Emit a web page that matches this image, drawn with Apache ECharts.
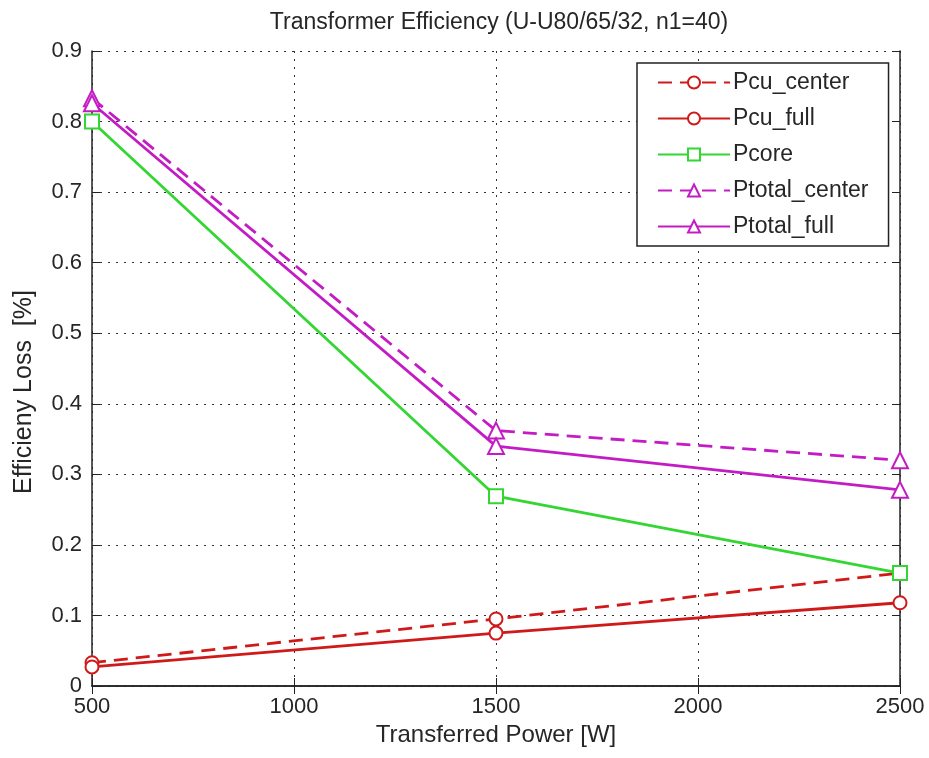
<!DOCTYPE html>
<html><head><meta charset="utf-8">
<script src="https://cdn.jsdelivr.net/npm/echarts@6/dist/echarts.min.js"></script>
<style>html,body{margin:0;padding:0;background:#fff}#c{width:929px;height:758px}</style>
</head><body><div id="c"></div>
<script>
const power = [500, 1500, 2500];
const pcuCenter = [0.033, 0.095, 0.160];
const pcuFull = [0.027, 0.075, 0.118];
const pcore = [0.800, 0.269, 0.160];
const ptotalCenter = [0.833, 0.362, 0.320];
const ptotalFull = [0.826, 0.340, 0.278];
const xTicks = [500, 1000, 1500, 2000, 2500];
const yTicks = [0, 0.1, 0.2, 0.3, 0.4, 0.5, 0.6, 0.7, 0.8, 0.9];

const RED = '#d01a1a', GREEN = '#33d633', MAG = '#c41cc4';
const FONT = 'Liberation Sans';
const TXT = '#262626';
const pairs = a => power.map((x, i) => [x, a[i]]);
function mk(name, data, color, symbol, size, dashed) {
  return {
    name, type: 'line', data: pairs(data), symbol, symbolSize: size,
    showAllSymbol: true,
    itemStyle: { color: '#fff', borderColor: color, borderWidth: 2 },
    lineStyle: { color, width: 2.8, type: dashed ? [14, 8] : 'solid' },
    emphasis: { disabled: true }, animation: false, z: 3
  };
}
const chart = echarts.init(document.getElementById('c'), null, { renderer: 'canvas' });
const axisLine = { show: true, lineStyle: { color: '#222', width: 1.5 } };
const tick = { show: true, inside: true, length: 8, lineStyle: { color: '#222', width: 1 } };
chart.setOption({
  backgroundColor: '#fff',
  animation: false,
  textStyle: { fontFamily: FONT },
  title: {
    text: 'Transformer Efficiency (U-U80/65/32, n1=40)', left: 494, textAlign: 'center', top: 6,
    textStyle: { fontFamily: FONT, fontSize: 23, fontWeight: 'normal', color: TXT }
  },
  graphic: [{
    type: 'text', x: 24, y: 392, rotation: Math.PI / 2,
    style: { text: 'Efficieny Loss  [%]', fontFamily: FONT, fontSize: 25, fill: TXT,
      textAlign: 'center', textVerticalAlign: 'middle' }
  }],
  legend: {
    orient: 'vertical', left: 637, top: 63,
    backgroundColor: '#fff', borderColor: '#222', borderWidth: 1.5,
    padding: [8, 20, 8, 20], itemGap: 13, itemWidth: 72, itemHeight: 15,
    textStyle: { fontFamily: FONT, fontSize: 23, color: TXT, padding: [0, 0, 0, -2] },
    data: ['Pcu_center', 'Pcu_full', 'Pcore', 'Ptotal_center', 'Ptotal_full']
  },
  grid: { left: 92, right: 29, top: 51, bottom: 72, containLabel: false },
  xAxis: [{
    type: 'value', min: xTicks[0], max: xTicks[xTicks.length - 1], interval: 500,
    name: 'Transferred Power [W]', nameLocation: 'middle', nameGap: 32,
    nameTextStyle: { fontFamily: FONT, fontSize: 24, color: TXT, verticalAlign: 'top' },
    axisLine, axisTick: tick,
    axisLabel: { fontFamily: FONT, fontSize: 22, color: TXT, margin: 10, formatter: v => String(v) },
    splitLine: { show: true, lineStyle: { color: '#333', type: [2, 6], width: 1 } }
  }, {
    type: 'value', position: 'top', min: xTicks[0], max: xTicks[xTicks.length - 1], interval: 500,
    axisLine, axisTick: tick, axisLabel: { show: false }, splitLine: { show: false }
  }],
  yAxis: [{
    type: 'value', min: yTicks[0], max: yTicks[yTicks.length - 1], interval: 0.1,
    axisLine, axisTick: tick,
    axisLabel: { fontFamily: FONT, fontSize: 22, color: TXT, margin: 10,
      formatter: v => v === 0 ? '0' : (+v).toFixed(1) },
    splitLine: { show: true, lineStyle: { color: '#333', type: [2, 6], width: 1 } }
  }, {
    type: 'value', position: 'right', min: yTicks[0], max: yTicks[yTicks.length - 1], interval: 0.1,
    axisLine, axisTick: tick, axisLabel: { show: false }, splitLine: { show: false }
  }],
  series: [
    mk('Pcu_center', pcuCenter, RED, 'circle', 13, true),
    mk('Pcu_full', pcuFull, RED, 'circle', 13, false),
    mk('Pcore', pcore, GREEN, 'rect', 14, false),
    mk('Ptotal_center', ptotalCenter, MAG, 'triangle', 16, true),
    mk('Ptotal_full', ptotalFull, MAG, 'triangle', 16, false)
  ]
});
</script></body></html>
